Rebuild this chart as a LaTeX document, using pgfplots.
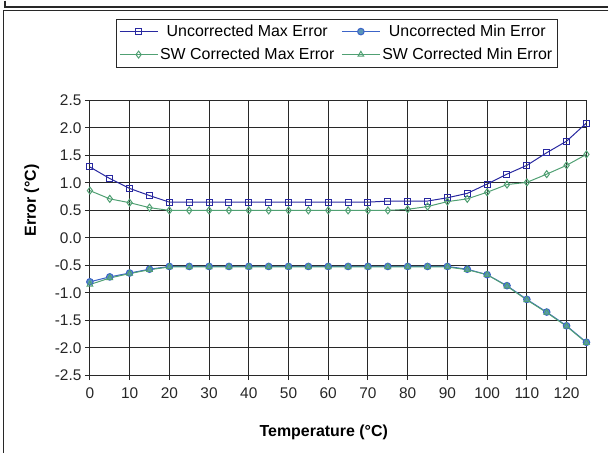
\documentclass[border=0pt]{standalone}
\usepackage{pgfplots}
\pgfplotsset{compat=1.18}
\usepackage{fontspec}
\setmainfont{Liberation Sans}

\definecolor{umax}{RGB}{40,40,160}
\definecolor{umin}{RGB}{60,100,200}
\definecolor{uminfill}{RGB}{90,150,185}
\definecolor{swgreen}{RGB}{80,160,115}
\definecolor{gridc}{RGB}{40,40,40}

\begin{document}
\begin{tikzpicture}[x=1bp,y=1bp]
% page frame: 609 x 453
\path (0,0) rectangle (609,-453);
\draw[line width=1.2bp,gridc] (5,0) -- (5,-6.5) -- (609,-6.5);
\draw[line width=1.2bp,gridc] (609,-10) -- (3.5,-10) -- (3.5,-453);
\begin{axis}[
  anchor=south west, at={(90bp,-375bp)},
  scale only axis, width=497bp, height=275bp,
  xmin=0, xmax=125, ymin=-2.5, ymax=2.5,
  xtick={0,10,...,120},
  ytick={-2.5,-2,...,2.5},
  grid=major,
  grid style={gridc, line width=1bp},
  axis line style={gridc, line width=1bp},
  tick style={gridc, line width=1bp},
  tick align=outside, major tick length=5bp,
  xtick pos=bottom, ytick pos=left,
  yticklabel style={/pgf/number format/.cd, fixed, fixed zerofill, precision=1},
  xticklabel style={yshift=-4bp},
  /pgf/number format/assume math mode=true,
  tick label style={font=\fontsize{15.5}{18}\selectfont, text=black!85},
  xlabel={\bfseries Temperature (°C)},
  ylabel={\bfseries Error (°C)},
  label style={font=\fontsize{16}{19}\selectfont},
  xlabel style={at={(axis description cs:0.471,-0.207)}, anchor=center},
  ylabel style={at={(axis description cs:-0.117,0.636)}, anchor=center},
  legend columns=2,
  legend style={at={(axis description cs:0.497,1.209)}, anchor=center,
    font=\fontsize{16}{19}\selectfont, draw=gridc, line width=1bp,
    /tikz/every even column/.append style={column sep=5bp},
    /tikz/every row/.append style={row sep=6bp},
    row sep=6bp,
    inner xsep=3bp, inner ysep=4bp},
  legend image code/.code={
    \draw[#1] (0bp,0bp) -- (38bp,0bp);
    \draw[#1] plot coordinates {(19bp,0bp)};
  },
  every axis plot/.append style={line width=1bp},
]
\addplot[umax, mark=square, mark size=3bp, mark options={fill=white, line width=1bp}] coordinates {
(0,1.29) (5,1.08) (10,0.90) (15,0.77) (20,0.65) (25,0.65) (30,0.65)
(35,0.65) (40,0.65) (45,0.65) (50,0.65) (55,0.65) (60,0.65) (65,0.65)
(70,0.65) (75,0.67) (80,0.67) (85,0.67) (90,0.73) (95,0.81) (100,0.98)
(105,1.16) (110,1.32) (115,1.55) (120,1.76) (125,2.09)
};
\addlegendentry{Uncorrected Max Error}
\addplot[umin, mark=*, mark size=3.3bp, mark options={fill=uminfill, draw=umin, line width=1bp}] coordinates {
(0,-0.80) (5,-0.71) (10,-0.64) (15,-0.57) (20,-0.52) (25,-0.52) (30,-0.52)
(35,-0.52) (40,-0.52) (45,-0.52) (50,-0.52) (55,-0.52) (60,-0.52) (65,-0.52)
(70,-0.52) (75,-0.52) (80,-0.52) (85,-0.52) (90,-0.52) (95,-0.57) (100,-0.67)
(105,-0.87) (110,-1.12) (115,-1.35) (120,-1.60) (125,-1.90)
};
\addlegendentry{Uncorrected Min Error}
\addplot[swgreen, mark=diamond, mark size=3.5bp, mark options={fill=white, line width=1bp}] coordinates {
(0,0.86) (5,0.71) (10,0.64) (15,0.55) (20,0.50) (25,0.50) (30,0.50)
(35,0.50) (40,0.50) (45,0.50) (50,0.50) (55,0.50) (60,0.50) (65,0.50)
(70,0.50) (75,0.50) (80,0.52) (85,0.57) (90,0.66) (95,0.71) (100,0.83)
(105,0.97) (110,1.01) (115,1.16) (120,1.32) (125,1.52)
};
\addlegendentry{SW Corrected Max Error}
\addplot[swgreen, mark=triangle, mark size=3.3bp, mark options={line width=1bp}] coordinates {
(0,-0.85) (5,-0.73) (10,-0.65) (15,-0.58) (20,-0.53) (25,-0.53) (30,-0.53)
(35,-0.53) (40,-0.53) (45,-0.53) (50,-0.53) (55,-0.53) (60,-0.53) (65,-0.53)
(70,-0.53) (75,-0.53) (80,-0.53) (85,-0.53) (90,-0.53) (95,-0.58) (100,-0.67)
(105,-0.88) (110,-1.13) (115,-1.36) (120,-1.61) (125,-1.91)
};
\addlegendentry{SW Corrected Min Error}
\end{axis}
\end{tikzpicture}
\end{document}
